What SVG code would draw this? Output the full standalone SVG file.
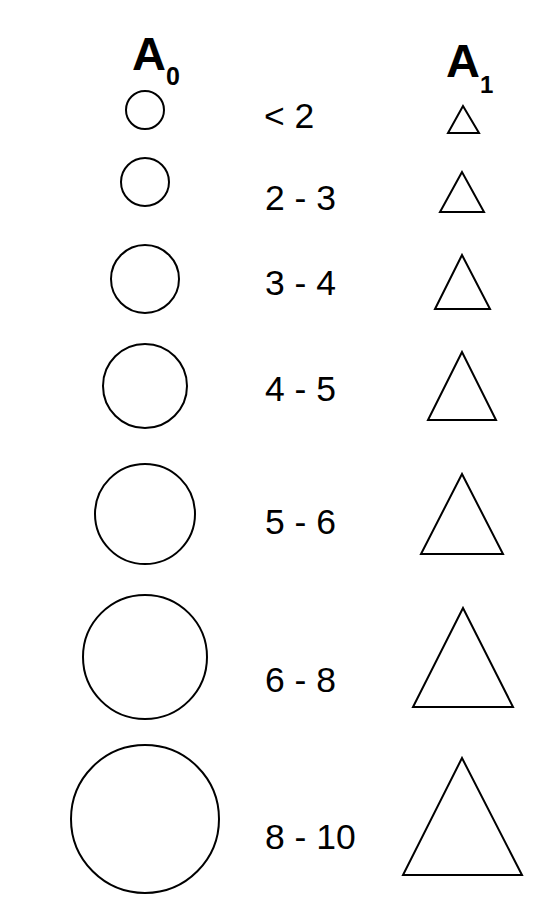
<svg xmlns="http://www.w3.org/2000/svg" width="550" height="908" viewBox="0 0 550 908">
<style>
.s{fill:#fff;stroke:#000;stroke-width:2}
.h{font-family:"Liberation Sans",Arial,sans-serif;font-weight:bold;fill:#000}
.l{font-family:"Liberation Sans",Arial,sans-serif;font-size:35.5px;fill:#000}
</style>
<rect width="550" height="908" fill="#fff"/>
<g id="header-a0"><text class="h" x="132" y="70" font-size="47">A</text><text class="h" x="166" y="85" font-size="25">0</text></g>
<g id="header-a1"><text class="h" x="446" y="77" font-size="47">A</text><text class="h" x="480" y="93" font-size="24">1</text></g>
<g id="circles">
<circle id="c1" class="s" cx="145" cy="110" r="19"/>
<circle id="c2" class="s" cx="145" cy="182" r="24"/>
<circle id="c3" class="s" cx="145" cy="279" r="34"/>
<circle id="c4" class="s" cx="145" cy="386" r="42"/>
<circle id="c5" class="s" cx="145" cy="514" r="50"/>
<circle id="c6" class="s" cx="145" cy="657" r="62"/>
<circle id="c7" class="s" cx="145" cy="819" r="74"/>
</g>
<g id="labels">
<text class="l" x="264" y="128">&lt; 2</text>
<text class="l" x="265" y="210">2 - 3</text>
<text class="l" x="265" y="295">3 - 4</text>
<text class="l" x="265" y="401">4 - 5</text>
<text class="l" x="265" y="534">5 - 6</text>
<text class="l" x="265" y="692">6 - 8</text>
<text class="l" x="265" y="849">8 - 10</text>
</g>
<g id="triangles">
<polygon id="t1" class="s" points="463,106 448,133 479,133"/>
<polygon id="t2" class="s" points="462,172 440,212 484,212"/>
<polygon id="t3" class="s" points="462,255 435,309 490,309"/>
<polygon id="t4" class="s" points="462,352 428,420 496,420"/>
<polygon id="t5" class="s" points="462,474 421,554 503,554"/>
<polygon id="t6" class="s" points="463,608 413,707 513,707"/>
<polygon id="t7" class="s" points="462,758 403,875 522,875"/>
</g>
</svg>
